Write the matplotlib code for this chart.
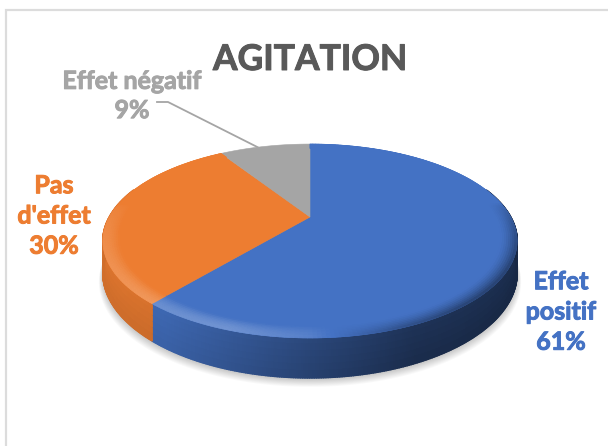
import numpy as np
import matplotlib
matplotlib.use("Agg")
import matplotlib.pyplot as plt
import matplotlib.patheffects as pe
from matplotlib.collections import PolyCollection
from matplotlib.colors import to_rgb
from matplotlib.patches import Rectangle, Polygon

categories = ["Effet positif", "Pas d'effet", "Effet négatif"]
values = [61, 30, 9]
colors = ["#4472C4", "#ED7D31", "#A5A5A5"]
title = "AGITATION"

CX, CY, R, H, K, D = 310, 217, 200.6, 91, 0.2475, 30.0

def proj(theta, r=1.0, z=0.0):
    u, v = r * np.sin(theta), r * np.cos(theta)
    w = 1 + K * v
    return CX + R * u / w, CY - H * v / w + z * D / w

def mix(c, t):
    c = np.array(to_rgb(c))
    return tuple(c + (1 - c) * t) if t >= 0 else tuple(c * (1 + t))

def side_shade(x):
    p = (x - 103) / 414
    return float(np.interp(p, [0, .15, .5, .75, 1], [-.07, -.10, -.38, -.56, -.60]))

fig = plt.figure(figsize=(6.08, 4.46), dpi=100)
ax = fig.add_axes([0, 0, 1, 1])
ax.set_xlim(0, 608); ax.set_ylim(446, 0); ax.axis("off")
ax.add_patch(Rectangle((6, 10), 640, 480, fc="white", ec="#DCDCDC", lw=1.6))

# soft shadow
full = np.linspace(0, 2 * np.pi, 361)
for g in np.linspace(9, 1, 9):
    x, y = proj(full, 1.0, 1.0)
    ax.add_patch(Polygon(np.c_[CX + (x - CX) * (1 + g * .0022), y + 1 + g * .9], fc="#000000", ec="none", alpha=.022))

edges = np.r_[0, np.cumsum(values)] / sum(values) * 2 * np.pi

# side wall, top to bottom bands
zs = np.linspace(0, 1, 7)
for z0, z1 in zip(zs[:-1], zs[1:]):
    polys, cols = [], []
    for a, b, c in zip(edges[:-1], edges[1:], colors):
        n = max(int((b - a) / np.radians(.5)), 2)
        t = np.linspace(a, b, n + 1)
        for t0, t1 in zip(t[:-1], t[1:]):
            if np.cos((t0 + t1) / 2) > .32:
                continue
            x0, y0 = proj(t0, 1, z0); x1, y1 = proj(t1, 1, z0)
            x2, y2 = proj(t1, 1, z1); x3, y3 = proj(t0, 1, z1)
            polys.append([(x0, y0), (x1, y1), (x2, y2), (x3, y3)])
            cols.append(mix(c, side_shade((x0 + x1) / 2) - .06 * z0))
    ax.add_collection(PolyCollection(polys, facecolors=cols, edgecolors=cols, linewidths=1.3))

# top face
for a, b, c in zip(edges[:-1], edges[1:], colors):
    t = np.linspace(a, b, 200)
    x, y = proj(t)
    ax.add_patch(Polygon(np.r_[[[CX, CY]], np.c_[x, y]], fc=c, ec=c, lw=.4))

# bevel along the rim
rings = np.linspace(.925, 1, 9)
polys, cols = [], []
for a, b, c in zip(edges[:-1], edges[1:], colors):
    if c == colors[2]:
        continue
    n = max(int((b - a) / np.radians(1)), 2)
    t = np.linspace(a, b, n + 1)
    for r0, r1 in zip(rings[:-1], rings[1:]):
        q = ((r0 + r1) / 2 - .925) / .075
        for t0, t1 in zip(t[:-1], t[1:]):
            tm = (t0 + t1) / 2
            front = np.clip(-np.cos(tm) + .15, 0, 1)
            xm = proj(tm)[0]
            p = (xm - 103) / 414
            light = np.interp(p, [0, .3, .5, .72, 1], [.2, .24, .1, -.3, -.55]) * front ** .5
            s = light * np.sin(q * np.pi / 2) if light > 0 else light * q ** 1.5
            xa, ya = proj(t0, r0); xb, yb = proj(t1, r0)
            xc, yc = proj(t1, r1); xd, yd = proj(t0, r1)
            polys.append([(xa, ya), (xb, yb), (xc, yc), (xd, yd)])
            cols.append(mix(c, float(s)))
ax.add_collection(PolyCollection(polys, facecolors=cols, edgecolors=cols, linewidths=.5))

# title and labels
font = dict(family="Lato", fontweight="bold", ha="center", va="center")
def label(x, y, s, size, color, spacing=1.33):
    t = ax.text(x, y, s, fontsize=size, color=color, linespacing=spacing, **font)
    t.set_path_effects([pe.withStroke(linewidth=.7, foreground=color)])

label(310, 60, title, 25.5, "#595959")
pct = [f"{v}%" for v in values]
label(561, 312, f"Effet\npositif\n{pct[0]}", 18, colors[0], 1.38)
label(54, 216, f"Pas\nd'effet\n{pct[1]}", 18, colors[1], 1.38)
label(132, 96, f"Effet négatif\n{pct[2]}", 18, colors[2], 1.33)
lead = proj(edges[2] + (edges[3] - edges[2]) * .42)
ax.plot([157, 168, lead[0]], [102, 102, lead[1]], color="#A5A5A5", lw=1.3)

fig.savefig("out.png", dpi=100)
